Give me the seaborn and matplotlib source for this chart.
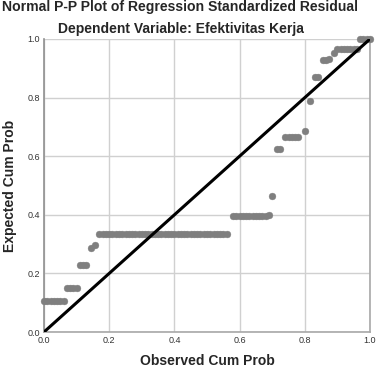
import matplotlib
matplotlib.use("Agg")
import matplotlib.pyplot as plt
import seaborn as sns
import numpy as np
import pandas as pd

# Observed cumulative probability (x) and expected cumulative probability (y)
observed = [0.00, 0.01, 0.02, 0.03, 0.04, 0.05, 0.06,
            0.07, 0.08, 0.09, 0.10,
            0.11, 0.12, 0.13,
            0.145, 0.155,
            0.17, 0.18, 0.19, 0.20, 0.21, 0.22, 0.23, 0.24, 0.25, 0.26,
            0.27, 0.28, 0.29, 0.30, 0.31, 0.32, 0.33, 0.34, 0.35, 0.36,
            0.37, 0.38, 0.39, 0.40, 0.41, 0.42, 0.43, 0.44, 0.45, 0.46,
            0.47, 0.48, 0.49, 0.50, 0.51, 0.52, 0.53, 0.54, 0.55, 0.56,
            0.58, 0.59, 0.60, 0.61, 0.62, 0.63, 0.64, 0.65, 0.66, 0.67, 0.68, 0.69,
            0.70,
            0.715, 0.725,
            0.74, 0.75, 0.76, 0.77, 0.78, 0.80,
            0.815,
            0.83, 0.84,
            0.855, 0.865, 0.875,
            0.89,
            0.90, 0.91, 0.92, 0.93, 0.94, 0.95, 0.96,
            0.97, 0.98, 0.99, 1.00]
expected = [0.105] * 7 + [0.15] * 4 + [0.23] * 3 + [0.285, 0.297] + [0.333] * 40 + \
           [0.397] * 11 + [0.40] + [0.464] + [0.625] * 2 + [0.665] * 5 + [0.685] + \
           [0.788] + [0.869] * 2 + [0.928, 0.93, 0.932] + [0.952] + [0.965] * 7 + [1.0] * 4

diag_x = [0.0, 1.0]
diag_y = [0.0, 1.0]
ticks = [0.0, 0.2, 0.4, 0.6, 0.8, 1.0]
tick_labels = ["0.0", "0.2", "0.4", "0.6", "0.8", "1.0"]

sns.set_style("white")
plt.rcParams['font.family'] = ['Liberation Sans', 'DejaVu Sans']

fig = plt.figure(figsize=(3.76, 3.68), dpi=100)
ax = fig.add_axes([44 / 376, 36 / 368, 326 / 376, 293 / 368])

df = pd.DataFrame({"obs": observed, "exp": expected})
sns.scatterplot(data=df, x="obs", y="exp", ax=ax, color="#7f7f7f", s=24,
                edgecolor="#7f7f7f", linewidth=0.3, zorder=3, clip_on=False)
sns.lineplot(x=diag_x, y=diag_y, ax=ax, color="black", linewidth=2.2, zorder=4)

ax.set_xlim(0, 1)
ax.set_ylim(0, 1)
ax.set_xticks(ticks)
ax.set_yticks(ticks)
ax.set_xticklabels(tick_labels, fontsize=6.5, color="#333333")
ax.set_yticklabels(tick_labels, fontsize=6.5, color="#333333")
ax.tick_params(length=0, pad=3)
ax.grid(True, color="#d0d0d0", linewidth=1.0)
ax.set_axisbelow(True)
for side in ["left", "bottom", "right"]:
    ax.spines[side].set_color("#a8a8a8")
    ax.spines[side].set_linewidth(1.2)
ax.spines["left"].set_color("#909090")
ax.spines["top"].set_visible(False)

ax.set_xlabel("Observed Cum Prob", fontsize=10, fontweight="bold", va="center")
ax.xaxis.set_label_coords(0.5, -29 / 293)
ax.set_ylabel("Expected Cum Prob", fontsize=10, fontweight="bold", va="center")
ax.yaxis.set_label_coords(-34 / 326, 0.5)

fig.text(180 / 376, 1 - 7 / 368, "Normal P-P Plot of Regression Standardized Residual",
         ha="center", va="center", fontsize=10.1, fontweight="bold")
fig.text(181 / 376, 1 - 29 / 368, "Dependent Variable: Efektivitas Kerja",
         ha="center", va="center", fontsize=10, fontweight="bold")

fig.savefig("out.png", dpi=100)
